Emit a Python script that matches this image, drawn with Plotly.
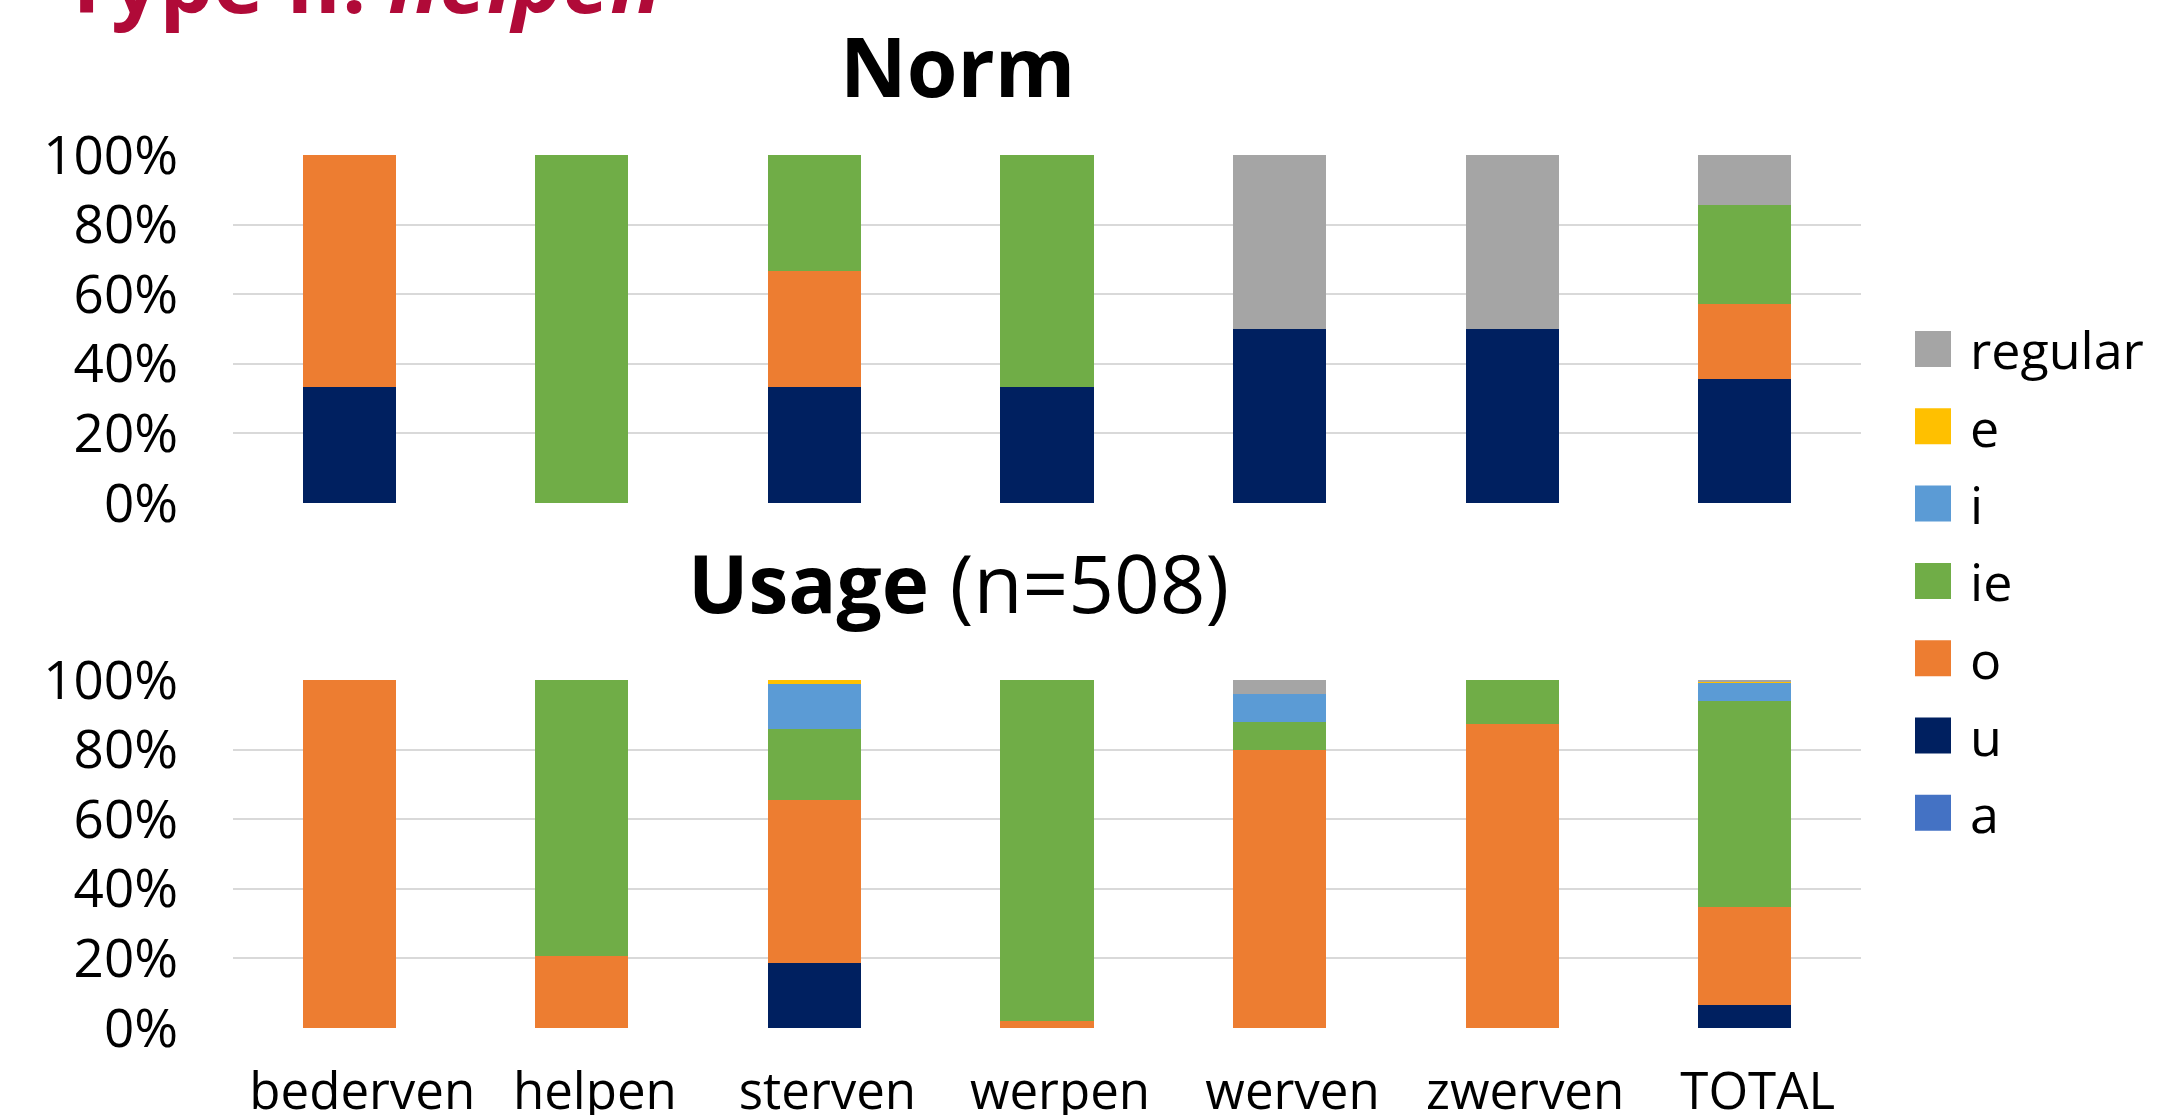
import plotly.graph_objects as go
from plotly.subplots import make_subplots

# Verbs and the share (%) of each vowel variant in the past participle
categories = ["bederven", "helpen", "sterven", "werpen", "werven", "zwerven", "TOTAL"]

# Stacking order, bottom to top
series_names = ["a", "u", "o", "ie", "i", "e", "regular"]
series_colors = ["#4472C4", "#002060", "#ED7D31", "#70AD47", "#5B9BD5", "#FFC000", "#A5A5A5"]

# Norm (reference grammars)
norm_a = [0, 0, 0, 0, 0, 0, 0]
norm_u = [33.3, 0, 33.3, 33.3, 50, 50, 35.7]
norm_o = [66.7, 0, 33.3, 0, 0, 0, 21.4]
norm_ie = [0, 100, 33.4, 66.7, 0, 0, 28.6]
norm_i = [0, 0, 0, 0, 0, 0, 0]
norm_e = [0, 0, 0, 0, 0, 0, 0]
norm_regular = [0, 0, 0, 0, 50, 50, 14.3]

# Usage (corpus, n=508)
usage_a = [0, 0, 0, 0, 0, 0, 0]
usage_u = [0, 0, 18.6, 0, 0, 0, 6.5]
usage_o = [100, 20.7, 47.0, 2.0, 80, 87.5, 28.3]
usage_ie = [0, 79.3, 20.3, 98.0, 8, 12.5, 59.1]
usage_i = [0, 0, 13.0, 0, 8, 0, 5.3]
usage_e = [0, 0, 1.1, 0, 0, 0, 0.4]
usage_regular = [0, 0, 0, 0, 4, 0, 0.4]

y_ticks = [0, 20, 40, 60, 80, 100]
y_tick_labels = ["0%", "20%", "40%", "60%", "80%", "100%"]

norm_series = [norm_a, norm_u, norm_o, norm_ie, norm_i, norm_e, norm_regular]
usage_series = [usage_a, usage_u, usage_o, usage_ie, usage_i, usage_e, usage_regular]

W, H = 2175, 1115
FONT = "Open Sans"


def px(x):
    return x / W


def py(y):
    return 1 - y / H


fig = make_subplots(rows=2, cols=1)

for name, color, nv, uv in zip(series_names, series_colors, norm_series, usage_series):
    fig.add_trace(go.Bar(x=categories, y=nv, name=name, marker=dict(color=color, line=dict(width=0)),
                         showlegend=False), row=1, col=1)
    fig.add_trace(go.Bar(x=categories, y=uv, name=name, marker=dict(color=color, line=dict(width=0)),
                         showlegend=False), row=2, col=1)

x_dom = [px(233), px(1861)]
axis_common = dict(domain=x_dom, showline=False, zeroline=False, showgrid=False, ticks="",
                   automargin=False)
fig.update_layout(
    xaxis=dict(**axis_common, showticklabels=False),
    xaxis2=dict(**axis_common, showticklabels=True, tickfont=dict(size=51, family=FONT, color="#000000"),
                ticklabelstandoff=29, ticklabelshift=13),
)
y_common = dict(range=[0, 100], tickvals=y_ticks, ticktext=y_tick_labels, showgrid=True,
                gridcolor="#D9D9D9", gridwidth=1.5, zeroline=False, showline=False, ticks="",
                automargin=False, tickfont=dict(size=53, family=FONT, color="#000000"),
                ticklabelstandoff=54)
fig.update_layout(
    yaxis=dict(**y_common, domain=[py(503), py(155)]),
    yaxis2=dict(**y_common, domain=[py(1028), py(680)]),
)

annotations = [
    dict(text="<b>Type II: <i>helpen</i></b>", x=px(60), y=py(-20), xref="paper", yref="paper",
         xanchor="left", yanchor="middle", showarrow=False,
         font=dict(size=85, family=FONT, color="#B00A38")),
    dict(text="<b>Norm</b>", x=px(957), y=py(65), xref="paper", yref="paper",
         xanchor="center", yanchor="middle", showarrow=False,
         font=dict(size=82, family=FONT, color="#000000")),
    dict(text="<b>Usage</b> (n=508)", x=px(958), y=py(581), xref="paper", yref="paper",
         xanchor="center", yanchor="middle", showarrow=False,
         font=dict(size=80, family=FONT, color="#000000")),
]

# Legend drawn by hand so the colour keys can be large squares (top = last stacked)
shapes = []
row0, row_step, sq = 349, 77.3, 36
for k, (name, color) in enumerate(zip(reversed(series_names), reversed(series_colors))):
    cy = row0 + k * row_step
    shapes.append(dict(type="rect", xref="paper", yref="paper",
                       x0=px(1915), x1=px(1915 + sq), y0=py(cy + sq / 2), y1=py(cy - sq / 2),
                       fillcolor=color, line=dict(width=0)))
    annotations.append(dict(text=name, x=px(1968), y=py(cy), xref="paper", yref="paper",
                            xanchor="left", yanchor="middle", showarrow=False,
                            font=dict(size=52, family=FONT, color="#000000")))

fig.update_layout(
    width=W, height=H, margin=dict(l=0, r=0, t=0, b=0, autoexpand=False),
    barmode="stack", bargap=0.6,
    plot_bgcolor="#FFFFFF", paper_bgcolor="#FFFFFF",
    annotations=annotations, shapes=shapes, showlegend=False,
    font=dict(family=FONT),
)

fig.write_html("out.html")
